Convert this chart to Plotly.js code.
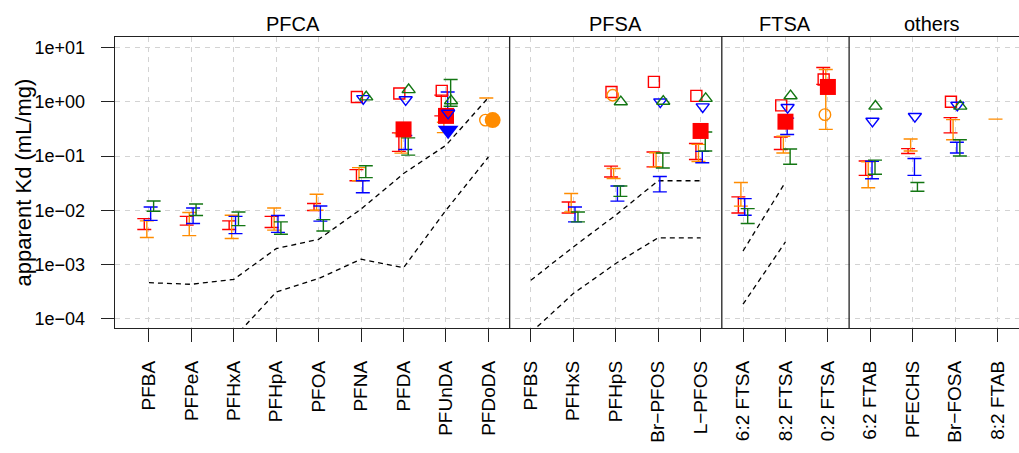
<!DOCTYPE html>
<html>
<head>
<meta charset="utf-8">
<script src="https://cdn.plot.ly/plotly-3.0.1.min.js"></script>
<style>
  html, body { margin: 0; padding: 0; background: #fff; overflow: hidden; }
  #chart { width: 1030px; height: 453px; }
</style>
</head>
<body>
<div id="chart"></div>
<script>
// Compounds along the x axis, grouped into panels
const categories = ['PFBA', 'PFPeA', 'PFHxA', 'PFHpA', 'PFOA', 'PFNA', 'PFDA', 'PFUnDA', 'PFDoDA',
  'PFBS', 'PFHxS', 'PFHpS', 'Br\u2212PFOS', 'L\u2212PFOS',
  '6:2 FTSA', '8:2 FTSA', '0:2 FTSA',
  '6:2 FTAB', 'PFECHS', 'Br\u2212FOSA', '8:2 FTAB'];
const panelNames = ['PFCA', 'PFSA', 'FTSA', 'others'];
const panelSizes = [9, 5, 3, 4];
// where each panel heading sits, in category units
const panelTitleAt = [3.4, 11.0, 15.0, 18.45];

// Apparent Kd ranges (mL/mg): lower and upper ends of each interval
const redLo    = [4.4e-3, 5.3e-3, 4.4e-3, 4.8e-3, 9.9e-3, 0.035, 0.122, 0.55, null, null, 8.9e-3, 0.041, 0.063, 0.086, 8.9e-3, 0.132, 2.1, 0.044, 0.111, 0.267, null];
const redHi    = [7.0e-3, 7.7e-3, 6.35e-3, 7.7e-3, 1.33e-2, 0.056, 0.267, 1.33, null, null, 1.42e-2, 0.065, 0.119, 0.170, 1.76e-2, 0.225, 4.3, 0.081, 0.137, 0.51, null];
const orangeLo = [3.13e-3, 3.4e-3, 3.0e-3, 4.3e-3, 1.0e-2, 0.035, 0.113, 0.27, 1.18, null, 9.3e-3, 0.0385, 0.063, 0.079, 1.19e-2, 0.114, 0.31, 0.026, 0.124, 0.20, 0.48];
const orangeHi = [6.35e-3, 9.1e-3, 8.1e-3, 1.1e-2, 1.97e-2, 0.061, 0.26, 0.42, 1.18, null, 2.03e-2, 0.059, 0.115, 0.164, 3.24e-2, 0.232, 3.95, 0.078, 0.206, 0.47, 0.48];
const blueLo   = [6.5e-3, 5.7e-3, 3.7e-3, 3.9e-3, 6.3e-3, 0.021, 0.132, 0.72, null, null, 6.1e-3, 0.0147, 0.0218, 0.075, 8.1e-3, 0.25, null, 0.038, 0.044, 0.114, null];
const blueHi   = [1.15e-2, 1.1e-2, 7.7e-3, 8.0e-3, 1.2e-2, 0.035, 0.239, 1.52, null, null, 1.15e-2, 0.028, 0.042, 0.122, 1.64e-2, 0.50, null, 0.080, 0.090, 0.18, null];
const greenLo  = [9.6e-3, 8.0e-3, 5.2e-3, 3.6e-3, 4.15e-3, 0.040, 0.104, 0.83, null, null, 6.1e-3, 0.018, 0.060, 0.124, 5.7e-3, 0.0706, null, 0.046, 0.0224, 0.10, null];
const greenHi  = [1.48e-2, 1.3e-2, 9.3e-3, 6.1e-3, 6.7e-3, 0.066, 0.216, 2.58, null, null, 9.3e-3, 0.028, 0.114, 0.278, 1.07e-2, 0.135, null, 0.084, 0.0324, 0.20, null];

// Single values shown as open symbols
const redOpen    = [null, null, null, null, null, 1.23, 1.42, 1.59, null, null, null, 1.52, 2.33, 1.29, null, 0.86, 2.58, null, null, 1.0, null];
const orangeOpen = [null, null, null, null, null, null, null, null, 0.46, null, null, 1.32, null, null, null, null, 0.58, null, null, null, null];
const blueOpen   = [null, null, null, null, null, 1.15, 1.10, 0.62, null, null, null, null, 1.0, 0.81, null, 0.79, null, 0.44, 0.54, 0.87, null];
const greenOpen  = [null, null, null, null, null, 1.23, 1.67, 1.04, null, null, null, 1.0, 1.02, 1.15, null, 1.29, null, 0.83, null, 0.83, null];

// Single values shown as filled symbols
const redFilled    = [null, null, null, null, null, null, 0.31, 0.55, null, null, null, null, null, 0.29, null, 0.43, 1.88, null, null, null, null];
const blueFilled   = [null, null, null, null, null, null, null, 0.30, null, null, null, null, null, null, null, null, null, null, null, null, null];
const orangeFilled = [null, null, null, null, null, null, null, null, 0.46, null, null, null, null, null, null, null, null, null, null, null, null];

// Reference curves (dashed), broken between panels
const upperCurve = [4.6e-4, 4.3e-4, 5.3e-4, 1.96e-3, 2.9e-3, 1.05e-2, 0.0475, 0.158, 1.2,
  5.1e-4, 2.1e-3, 8.1e-3, 0.035, 0.035,
  1.77e-3, 0.033, null,
  null, null, null, null];
const lowerCurve = [null, null, 4.4e-5, 3.1e-4, 5.5e-4, 1.25e-3, 8.7e-4, 1.0e-2, 0.096,
  5.5e-5, 2.9e-4, 1.04e-3, 3.1e-3, 3.1e-3,
  1.85e-4, 2.6e-3, null,
  null, null, null, null];

const RED = '#FF0000', ORANGE = '#FF8C00', BLUE = '#0000FF', GREEN = '#137613';
const OFF = { red: -0.11, orange: -0.05, blue: 0.04, green: 0.11 };

function errTrace(color, off, lo, hi) {
  const x = [], y = [], up = [], dn = [];
  lo.forEach((l, i) => {
    if (l == null || hi[i] == null) return;
    const c = Math.sqrt(l * hi[i]);
    x.push(i + off); y.push(c); up.push(hi[i] - c); dn.push(c - l);
  });
  return {
    type: 'scatter', mode: 'markers', x, y,
    marker: { size: 1, opacity: 0 },
    error_y: { type: 'data', symmetric: false, array: up, arrayminus: dn,
      color, thickness: 1.4, width: 7 },
    hoverinfo: 'skip', showlegend: false
  };
}

function symTrace(vals, off, symbol, color, size, filled) {
  const x = [], y = [];
  vals.forEach((v, i) => { if (v != null) { x.push(i + off); y.push(v); } });
  return {
    type: 'scatter', mode: 'markers', x, y,
    marker: filled
      ? { symbol, size, color }
      : { symbol, size, color: 'rgba(0,0,0,0)', line: { color, width: 1.4 } },
    hoverinfo: 'skip', showlegend: false
  };
}

// Panel boundaries from the group sizes
const bounds = [];
let acc = 0;
panelSizes.forEach(n => { bounds.push([acc, acc + n - 1]); acc += n; });

function curveTrace(vals) {
  const x = [], y = [];
  bounds.forEach(([a, b], k) => {
    for (let i = a; i <= b; i++) { x.push(i); y.push(vals[i]); }
    if (k < bounds.length - 1) { x.push(b + 0.5); y.push(null); }
  });
  return {
    type: 'scatter', mode: 'lines', x, y, connectgaps: false,
    line: { color: '#000', width: 1.3, dash: '5px,4px' },
    hoverinfo: 'skip', showlegend: false
  };
}

const traces = [
  curveTrace(upperCurve),
  curveTrace(lowerCurve),
  errTrace(RED, OFF.red, redLo, redHi),
  errTrace(ORANGE, OFF.orange, orangeLo, orangeHi),
  errTrace(BLUE, OFF.blue, blueLo, blueHi),
  errTrace(GREEN, OFF.green, greenLo, greenHi),
  symTrace(redFilled, 0, 'square', RED, 16, true),
  symTrace(blueFilled, 0.05, 'triangle-down', BLUE, 18, true),
  symTrace(orangeFilled, 0.1, 'circle', ORANGE, 16, true),
  symTrace(redOpen, -0.1, 'square', RED, 11, false),
  symTrace(orangeOpen, -0.07, 'circle', ORANGE, 11.5, false),
  symTrace(blueOpen, 0.05, 'triangle-down', BLUE, 11.5, false),
  symTrace(greenOpen, 0.12, 'triangle-up', GREEN, 11.5, false)
];

const FONT = 'Liberation Sans, Arial, Helvetica, sans-serif';

const shapes = bounds.slice(0, -1).map(([a, b]) => ({
  type: 'line', xref: 'x', yref: 'paper', x0: b + 0.5, x1: b + 0.5, y0: 0, y1: 1,
  line: { color: '#222', width: 1.3 }
}));

const annotations = panelNames.map((name, k) => ({
  xref: 'x', yref: 'paper', x: panelTitleAt[k], y: 1, yanchor: 'bottom', yshift: 0,
  text: name, showarrow: false, font: { family: FONT, size: 20, color: '#000' }
}));
annotations.push({
  xref: 'paper', yref: 'paper', x: 0, y: 0.5, xanchor: 'center', yanchor: 'middle',
  xshift: -92, textangle: -90, text: 'apparent Kd (mL/mg)', showarrow: false,
  font: { family: FONT, size: 22, color: '#000' }
});

const decades = [-4, -3, -2, -1, 0, 1];
const layout = {
  width: 1030, height: 453,
  margin: { l: 115, r: 5, t: 37, b: 125 },
  paper_bgcolor: '#fff', plot_bgcolor: '#fff',
  font: { family: FONT, size: 15, color: '#000' },
  xaxis: {
    range: [-0.8, 20.645],
    tickmode: 'array', tickvals: categories.map((_, i) => i), ticktext: categories,
    tickangle: -90, ticks: 'outside', ticklen: 13, tickwidth: 1, tickcolor: '#222',
    ticklabelstandoff: 11, tickfont: { family: FONT, size: 19, color: '#000' },
    showgrid: true, gridcolor: '#D3D3D3', gridwidth: 1, griddash: '5px,5px',
    showline: true, mirror: true, linecolor: '#222', linewidth: 1.3,
    zeroline: false, fixedrange: true
  },
  yaxis: {
    type: 'log', range: [-4.173, 1.196],
    tickmode: 'array', tickvals: decades.map(d => Math.pow(10, d)),
    ticktext: decades.map(d => '1e' + (d < 0 ? '\u2212' : '+') + String(Math.abs(d)).padStart(2, '0')),
    ticks: 'outside', ticklen: 13, tickwidth: 1, tickcolor: '#222',
    ticklabelstandoff: 12, tickfont: { family: FONT, size: 18, color: '#000' },
    showgrid: true, gridcolor: '#D3D3D3', gridwidth: 1, griddash: '5px,5px',
    showline: true, mirror: true, linecolor: '#222', linewidth: 1.3,
    zeroline: false, fixedrange: true
  },
  shapes, annotations, showlegend: false
};

Plotly.newPlot('chart', traces, layout, { staticPlot: true, displayModeBar: false });
</script>
</body>
</html>
